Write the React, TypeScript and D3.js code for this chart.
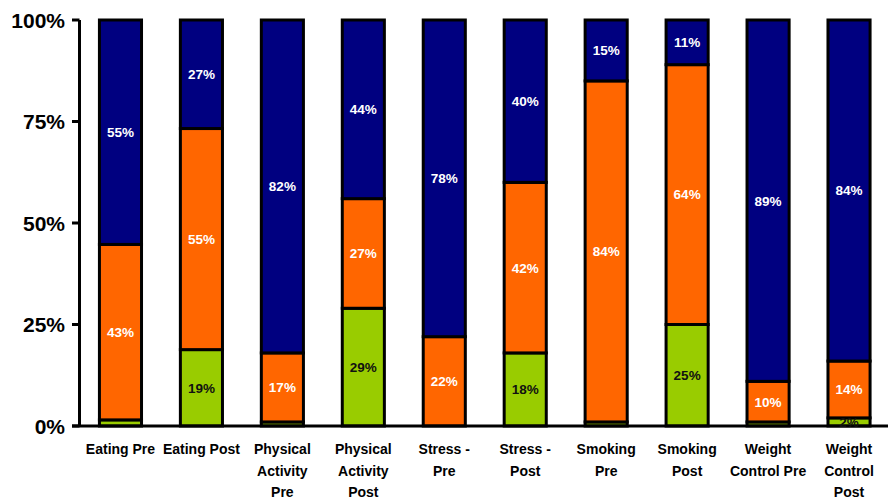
import React from "react";
import * as d3 from "d3";

// Category names, split into the lines they wrap onto under the axis
const categoryLines: string[][] = [
  ["Eating Pre"],
  ["Eating Post"],
  ["Physical", "Activity", "Pre"],
  ["Physical", "Activity", "Post"],
  ["Stress -", "Pre"],
  ["Stress -", "Post"],
  ["Smoking", "Pre"],
  ["Smoking", "Post"],
  ["Weight", "Control Pre"],
  ["Weight", "Control", "Post"],
];
const categories = categoryLines.map((l) => l.join(" "));

// Share of respondents per stage (percent), bottom to top of each bar
const greenValues = [1.5, 19, 1, 29, 0, 18, 1, 25, 1, 2];
const orangeValues = [43, 55, 17, 27, 22, 42, 84, 64, 10, 14];
const navyValues = [55, 27, 82, 44, 78, 40, 15, 11, 89, 84];

const yTicks = [0, 0.25, 0.5, 0.75, 1];

const seriesKeys = ["green", "orange", "navy"] as const;
const seriesFill: Record<string, string> = {
  green: "#99CC00",
  orange: "#FF6600",
  navy: "#000080",
};
const seriesLabelColor: Record<string, string> = {
  green: "#111111",
  orange: "#FFFFFF",
  navy: "#FFFFFF",
};

const W = 888;
const H = 500;
const FONT = "'Liberation Sans', Arial, Helvetica, sans-serif";

export default function App() {
  const rows = categories.map((c, i) => ({
    category: c,
    green: greenValues[i],
    orange: orangeValues[i],
    navy: navyValues[i],
  }));

  const stack = d3
    .stack<any>()
    .keys(seriesKeys as unknown as string[])
    .offset(d3.stackOffsetExpand);
  const layers = stack(rows);

  const x = d3
    .scaleBand<string>()
    .domain(categories)
    .range([80, 889.5])
    .paddingInner(0.48)
    .paddingOuter(0.24);
  const y = d3.scaleLinear().domain([0, 1]).range([426, 20]);

  const axisX = 79.5;
  const fmt = d3.format(".0%");

  return (
    <svg
      width={W}
      height={H}
      style={{ position: "absolute", left: 0, top: 0, background: "#fff" }}
      fontFamily={FONT}
    >
      {/* stacked bars */}
      {layers.map((layer) =>
        layer.map((seg, i) => {
          const x0 = x(categories[i])!;
          const y0 = y(seg[1]);
          const h = y(seg[0]) - y(seg[1]);
          if (h <= 0) return null;
          return (
            <rect
              key={layer.key + i}
              x={x0}
              y={y0}
              width={x.bandwidth()}
              height={h}
              fill={seriesFill[layer.key]}
              stroke="#000"
              strokeWidth={3}
            />
          );
        })
      )}

      {/* axes */}
      <line x1={axisX} x2={axisX} y1={y(1)} y2={y(0)} stroke="#000" strokeWidth={3} />
      <line x1={72} x2={W} y1={y(0)} y2={y(0)} stroke="#000" strokeWidth={3} />
      {yTicks.map((t) => (
        <g key={t}>
          <line x1={72} x2={axisX} y1={y(t)} y2={y(t)} stroke="#000" strokeWidth={3} />
          <text
            x={65}
            y={y(t)}
            dy="0.36em"
            textAnchor="end"
            fontSize={21}
            fontWeight="bold"
            fill="#000"
          >
            {fmt(t)}
          </text>
        </g>
      ))}

      {/* value labels */}
      {layers.map((layer) =>
        layer.map((seg, i) => {
          const raw = (layer.key === "green"
            ? greenValues
            : layer.key === "orange"
            ? orangeValues
            : navyValues)[i];
          if (raw < 2) return null;
          const cx = x(categories[i])! + x.bandwidth() / 2;
          const cy = y((seg[0] + seg[1]) / 2);
          return (
            <text
              key={"l" + layer.key + i}
              x={cx}
              y={cy}
              dy="0.36em"
              textAnchor="middle"
              fontSize={13.5}
              fontWeight="bold"
              fill={seriesLabelColor[layer.key]}
            >
              {raw + "%"}
            </text>
          );
        })
      )}

      {/* category labels */}
      {categoryLines.map((lines, i) => (
        <text
          key={"c" + i}
          x={x(categories[i])! + x.bandwidth() / 2}
          y={454}
          textAnchor="middle"
          fontSize={14}
          fontWeight="bold"
          fill="#000"
        >
          {lines.map((ln, j) => (
            <tspan key={j} x={x(categories[i])! + x.bandwidth() / 2} dy={j === 0 ? 0 : 21.5}>
              {ln}
            </tspan>
          ))}
        </text>
      ))}
    </svg>
  );
}
